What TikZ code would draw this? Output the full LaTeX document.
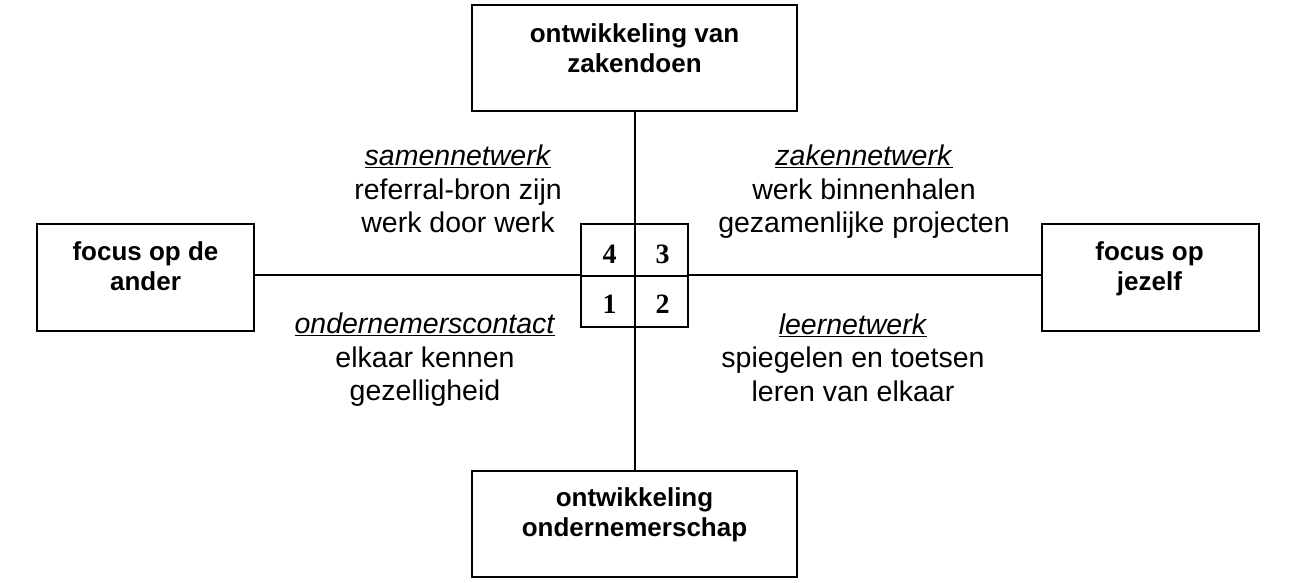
\documentclass[tikz,border=0pt]{standalone}
\usepackage{fontspec}
\setmainfont{Liberation Sans}
\newfontfamily\numfont{Liberation Serif}
\begin{document}
\begin{tikzpicture}[x=1pt,y=-1pt,
  box/.style={draw, line width=2.6pt, inner sep=0pt},
  boxtext/.style={align=center, font=\fontsize{26}{30}\selectfont\bfseries, inner sep=0pt},
  quadtext/.style={align=center, font=\fontsize{28.5}{33.5}\selectfont, inner sep=0pt},
  numtext/.style={font=\numfont\fontsize{28}{28}\selectfont\bfseries, inner sep=0pt},
  conn/.style={line width=2pt}]
\useasboundingbox (0,0) rectangle (1299,582);
% boxes
\node[box, minimum width=325pt, minimum height=106pt] (top) at (634.5,58) {};
\node[box, minimum width=325pt, minimum height=106pt] (bot) at (634.5,524) {};
\node[box, minimum width=217pt, minimum height=107pt] (left) at (145.5,277.5) {};
\node[box, minimum width=217pt, minimum height=107pt] (right) at (1150.5,277.5) {};
% connectors
\coordinate (hl) at (0,274.5);
\draw[conn] (top.south) -- (bot.north);
\draw[conn] (left.east |- hl) -- (right.west |- hl);
% centre box
\node[draw, line width=2pt, minimum width=107pt, minimum height=103pt, inner sep=0pt, fill=white] (ctr) at (634.5,275.5) {};
\draw[conn] (ctr.north) -- (ctr.south);
\draw[conn] (ctr.west) -- (ctr.east);
\node[numtext] (n4) at (609.5,254.5) {4};
\node[numtext] (n3) at (662.5,254.5) {3};
\node[numtext] (n1) at (609.5,304) {1};
\node[numtext] (n2) at (662.5,304) {2};
% box texts
\node[boxtext] (ttop) at (634.5,48) {ontwikkeling van\\zakendoen};
\node[boxtext] (tbot) at (634.5,515) {ontwikkeling\\ondernemerschap};
\node[boxtext] (tleft) at (145.5,266.5) {focus op de\\ander};
\node[boxtext] (tright) at (1149.5,269) {focus op\\jezelf};
% quadrant texts
\node[quadtext] (q4) at (458,189) {\underline{\textit{samennetwerk}}\\referral-bron zijn\\werk door werk};
\node[quadtext] (q3) at (864,192) {\underline{\textit{zakennetwerk}}\\werk binnenhalen\\gezamenlijke projecten};
\node[quadtext] (q1) at (425,360) {\underline{\textit{ondernemerscontact}}\\elkaar kennen\\gezelligheid};
\node[quadtext] (q2) at (853,357.5) {\underline{\textit{leernetwerk}}\\spiegelen en toetsen\\leren van elkaar};
\end{tikzpicture}
\end{document}
